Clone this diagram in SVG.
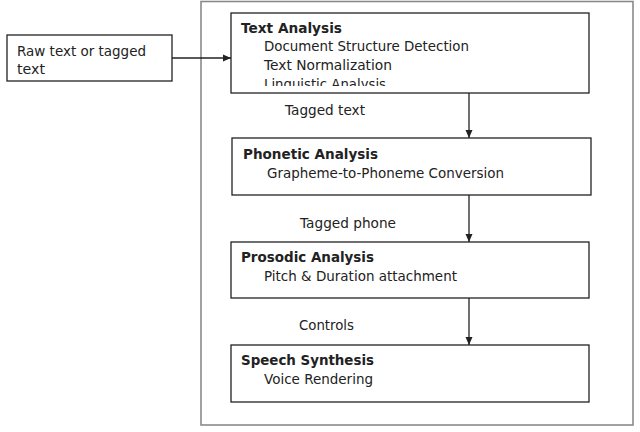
<svg xmlns="http://www.w3.org/2000/svg" width="640" height="432" viewBox="0 0 640 432">
<style>
  .box { fill: #fff; stroke: #222; stroke-width: 1.3; }
  .outer { fill: #fff; stroke: #8a8a8a; stroke-width: 1.6; }
  .t { font-family: "DejaVu Sans", Verdana, sans-serif; font-size: 13.5px; fill: #222; }
  .b { font-weight: bold; }
  .edge { stroke: #222; stroke-width: 1.3; fill: none; marker-end: url(#arr); }
</style>
<defs>
  <marker id="arr" viewBox="0 0 8 8" refX="8" refY="4" markerWidth="8" markerHeight="8" markerUnits="userSpaceOnUse" orient="auto">
    <path d="M0,0.5 L8,4 L0,7.5 Z" fill="#222"/>
  </marker>
  <clipPath id="clipTA"><rect x="231" y="13" width="358" height="73"/></clipPath>
</defs>
<rect width="640" height="432" fill="#fff"/>
<g id="container"><rect class="outer" x="201" y="1.5" width="432" height="423.5"/></g>
<g id="raw">
  <rect class="box" x="7" y="35" width="165" height="46"/>
  <text class="t" x="17" y="56" textLength="129" lengthAdjust="spacingAndGlyphs">Raw text or tagged</text>
  <text class="t" x="17" y="74" textLength="28" lengthAdjust="spacingAndGlyphs">text</text>
</g>
<g id="text-analysis">
  <rect class="box" x="231" y="13" width="358" height="80"/>
  <g clip-path="url(#clipTA)">
    <text class="t b" x="241" y="33" textLength="101" lengthAdjust="spacingAndGlyphs">Text Analysis</text>
    <text class="t" x="264" y="51" textLength="205" lengthAdjust="spacingAndGlyphs">Document Structure Detection</text>
    <text class="t" x="264" y="70" textLength="128" lengthAdjust="spacingAndGlyphs">Text Normalization</text>
    <text class="t" x="264" y="89" textLength="122" lengthAdjust="spacingAndGlyphs">Linguistic Analysis</text>
  </g>
</g>
<g id="phonetic">
  <rect class="box" x="232" y="138" width="359" height="57"/>
  <text class="t b" x="243" y="159" textLength="135" lengthAdjust="spacingAndGlyphs">Phonetic Analysis</text>
  <text class="t" x="267" y="178" textLength="237" lengthAdjust="spacingAndGlyphs">Grapheme-to-Phoneme Conversion</text>
</g>
<g id="prosodic">
  <rect class="box" x="231" y="242" width="358" height="56"/>
  <text class="t b" x="241" y="262" textLength="133" lengthAdjust="spacingAndGlyphs">Prosodic Analysis</text>
  <text class="t" x="264" y="281" textLength="193" lengthAdjust="spacingAndGlyphs">Pitch &amp; Duration attachment</text>
</g>
<g id="speech">
  <rect class="box" x="231" y="345" width="358" height="57"/>
  <text class="t b" x="241" y="365" textLength="133" lengthAdjust="spacingAndGlyphs">Speech Synthesis</text>
  <text class="t" x="264" y="384" textLength="109" lengthAdjust="spacingAndGlyphs">Voice Rendering</text>
</g>
<g id="connectors">
  <line class="edge" x1="172" y1="58" x2="231" y2="58"/>
  <line class="edge" x1="469" y1="93" x2="469" y2="138"/>
  <line class="edge" x1="469" y1="195" x2="469" y2="242"/>
  <line class="edge" x1="469" y1="298" x2="469" y2="345"/>
  <text class="t" x="285" y="115" textLength="80" lengthAdjust="spacingAndGlyphs">Tagged text</text>
  <text class="t" x="300" y="228" textLength="96" lengthAdjust="spacingAndGlyphs">Tagged phone</text>
  <text class="t" x="299" y="330" textLength="55" lengthAdjust="spacingAndGlyphs">Controls</text>
</g>
</svg>
